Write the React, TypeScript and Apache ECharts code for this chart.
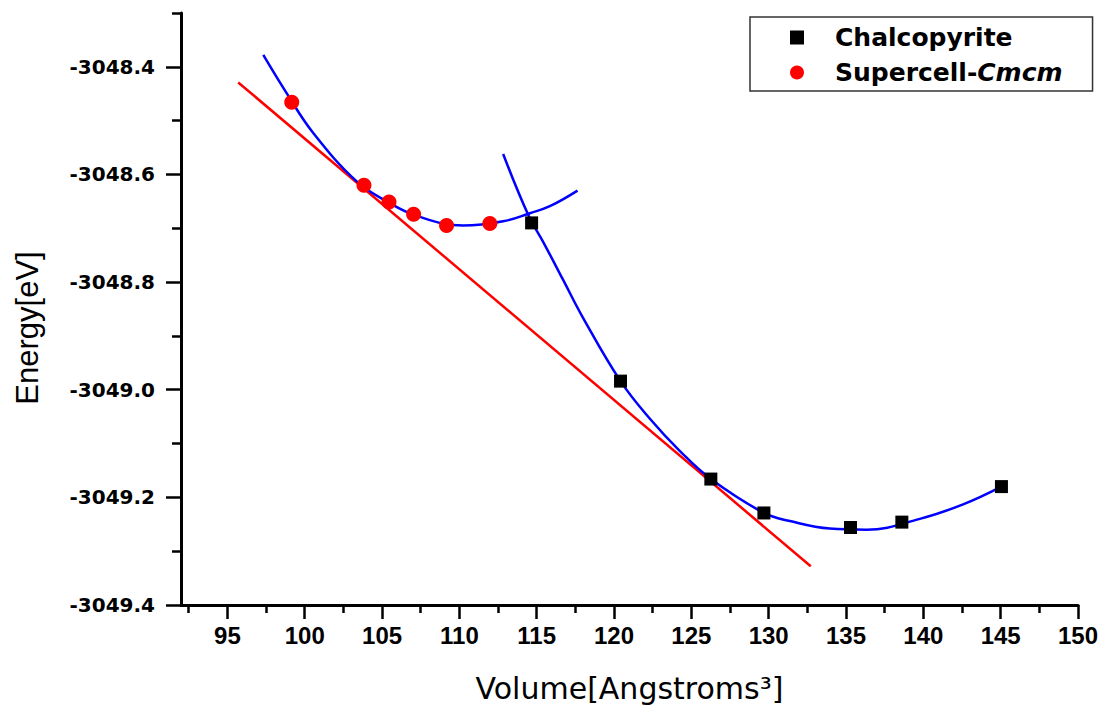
import React, { useEffect, useRef } from "react";
import * as echarts from "echarts";

// ---- data ----
const chalcoVolume = [114.67, 120.42, 126.26, 129.69, 135.29, 138.61, 145.05];
const chalcoEnergy = [-3048.690, -3048.984, -3049.166, -3049.229, -3049.256, -3049.246, -3049.180];

const superVolume = [99.16, 103.83, 105.45, 107.04, 109.17, 111.97];
const superEnergy = [-3048.466, -3048.620, -3048.651, -3048.674, -3048.695, -3048.691];

// fitted curves, points
const superFitVolume = [97.32, 98.83, 100.55, 103.36, 105.30, 107.24, 110.25, 112.83, 114.56, 115.85, 117.64];
const superFitEnergy = [-3048.378, -3048.449, -3048.523, -3048.613, -3048.650, -3048.677, -3048.695, -3048.687, -3048.672, -3048.659, -3048.630];

const chalcoFitVolume = [112.83, 114.45, 115.45, 116.71, 117.95, 120.42, 122.32, 124.26, 126.26, 129.69, 131.37, 133.95, 136.33, 139.77, 142.57, 145.05];
const chalcoFitEnergy = [-3048.562, -3048.675, -3048.727, -3048.796, -3048.864, -3048.984, -3049.054, -3049.114, -3049.166, -3049.229, -3049.244, -3049.258, -3049.260, -3049.240, -3049.213, -3049.180];

// common tangent line
const tangentVolume = [95.70, 132.72];
const tangentEnergy = [-3048.429, -3049.328];

// axis ticks
const xMajorTicks = [95, 100, 105, 110, 115, 120, 125, 130, 135, 140, 145, 150];
const xMinorTicks = [92.5, 97.5, 102.5, 107.5, 112.5, 117.5, 122.5, 127.5, 132.5, 137.5, 142.5, 147.5];
const yMajorTicks = [-3049.4, -3049.2, -3049.0, -3048.8, -3048.6, -3048.4];
const yMinorTicks = [-3049.3, -3049.1, -3048.9, -3048.7, -3048.5, -3048.3];

const seriesNames = ["Chalcopyrite", "Supercell-Cmcm"];
const xTitle = "Volume[Angstroms³]";
const yTitle = "Energy[eV]";

const pairs = (xs: number[], ys: number[]) => xs.map((x, i) => [x, ys[i]]);

export default function App() {
  const ref = useRef<HTMLDivElement>(null);

  useEffect(() => {
    if (!ref.current) return;
    const chart = echarts.init(ref.current, null, { renderer: "svg" });

    const axisLineStyle = { color: "#000", width: 3 };
    const tickStyle = { color: "#000", width: 2.5 };

    chart.setOption({
      animation: false,
      backgroundColor: "#fff",
      grid: { left: 181, right: 32, top: 13, bottom: 108, containLabel: false },
      legend: {
        orient: "vertical",
        left: 750,
        top: 17,
        padding: [8, 30, 6, 40],
        itemGap: 10,
        itemWidth: 14,
        itemHeight: 14,
        borderColor: "#333",
        borderWidth: 1.5,
        backgroundColor: "#fff",
        data: [
          { name: seriesNames[0], icon: "rect" },
          { name: seriesNames[1], icon: "circle" },
        ],
        formatter: (name: string) =>
          name === "Supercell-Cmcm" ? "Supercell-{i|Cmcm}" : name,
        textStyle: {
          fontFamily: "DejaVu Sans",
          fontWeight: "bold",
          fontSize: 25,
          color: "#000",
          padding: [0, 0, 0, 26],
          rich: {
            i: {
              fontFamily: "DejaVu Sans",
              fontWeight: "bold",
              fontStyle: "italic",
              fontSize: 25,
              color: "#000",
            },
          },
        },
      },
      xAxis: [
        {
          type: "value",
          min: 92,
          max: 150,
          position: "bottom",
          axisLine: { show: true, onZero: false, lineStyle: axisLineStyle },
          axisTick: { show: true, length: 14, lineStyle: tickStyle, customValues: xMajorTicks },
          axisLabel: {
            customValues: xMajorTicks,
            fontFamily: "Liberation Sans",
            fontWeight: "bold",
            fontSize: 24,
            color: "#000",
            margin: 18,
          },
          splitLine: { show: false },
          name: xTitle,
          nameLocation: "middle",
          nameGap: 68,
          nameTextStyle: { fontFamily: "DejaVu Sans", fontSize: 30, color: "#000" },
        },
        {
          type: "value",
          min: 92,
          max: 150,
          position: "bottom",
          offset: 0,
          axisLine: { show: false },
          axisTick: { show: true, length: 8, lineStyle: tickStyle, customValues: xMinorTicks },
          axisLabel: { show: false },
          splitLine: { show: false },
        },
      ],
      yAxis: [
        {
          type: "value",
          min: -3049.4,
          max: -3048.3,
          position: "left",
          axisLine: { show: true, onZero: false, lineStyle: axisLineStyle },
          axisTick: { show: true, length: 15, lineStyle: tickStyle, customValues: yMajorTicks },
          axisLabel: {
            customValues: yMajorTicks,
            formatter: (v: number) => v.toFixed(1),
            fontFamily: "DejaVu Sans",
            fontWeight: "bold",
            fontSize: 20,
            color: "#000",
            margin: 26,
          },
          splitLine: { show: false },
        },
        {
          type: "value",
          min: -3049.4,
          max: -3048.3,
          position: "left",
          offset: 0,
          axisLine: { show: false },
          axisTick: { show: true, length: 9, lineStyle: tickStyle, customValues: yMinorTicks },
          axisLabel: { show: false },
          splitLine: { show: false },
        },
      ],
      graphic: [
        {
          type: "text",
          x: 27,
          y: 328,
          rotation: Math.PI / 2,
          style: {
            text: yTitle,
            fontFamily: "Liberation Sans",
            fontSize: 31,
            fill: "#000",
            align: "center",
            verticalAlign: "middle",
          },
        },
      ],
      series: [
        {
          name: "tangent",
          type: "line",
          data: pairs(tangentVolume, tangentEnergy),
          showSymbol: false,
          symbol: "none",
          lineStyle: { color: "#ff0000", width: 2.5 },
          z: 2,
        },
        {
          name: "superFit",
          type: "line",
          data: pairs(superFitVolume, superFitEnergy),
          smooth: 0.4,
          symbol: "none",
          lineStyle: { color: "#0000ff", width: 2.5 },
          z: 3,
        },
        {
          name: "chalcoFit",
          type: "line",
          data: pairs(chalcoFitVolume, chalcoFitEnergy),
          smooth: 0.4,
          symbol: "none",
          lineStyle: { color: "#0000ff", width: 2.5 },
          z: 3,
        },
        {
          name: seriesNames[0],
          type: "scatter",
          symbol: "rect",
          symbolSize: 13,
          itemStyle: { color: "#000", opacity: 1 },
          data: pairs(chalcoVolume, chalcoEnergy),
          z: 4,
        },
        {
          name: seriesNames[1],
          type: "scatter",
          symbol: "circle",
          symbolSize: 15,
          itemStyle: { color: "#ff0000", opacity: 1 },
          data: pairs(superVolume, superEnergy),
          z: 4,
        },
      ],
    });

    return () => chart.dispose();
  }, []);

  return (
    <div
      ref={ref}
      style={{ position: "fixed", left: 0, top: 0, width: 1110, height: 713, background: "#fff" }}
    />
  );
}
